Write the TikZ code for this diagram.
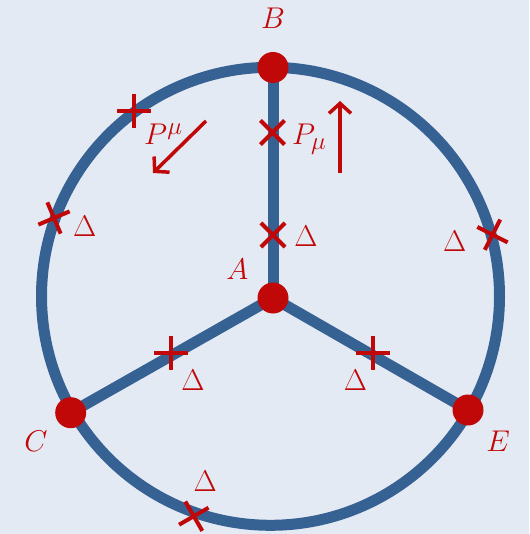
\documentclass[tikz,border=0pt]{standalone}
\usetikzlibrary{arrows.meta}
\definecolor{bg}{RGB}{228,234,243}
\definecolor{wire}{RGB}{54,97,147}
\definecolor{mk}{RGB}{192,8,8}
\newcommand\xmarkat[2]{\draw[xmark, shift={(#1)}, rotate=#2] (-17,0) -- (17,0) (0,-17) -- (0,17);}
\begin{document}
\begin{tikzpicture}[x=1pt,y=-1pt,
  wireline/.style={line width=11pt, draw=wire},
  vertex/.style={circle, fill=mk, minimum size=31pt, inner sep=0pt},
  lbl/.style={text=mk, font=\fontsize{24.88}{30}\selectfont, scale=1.2058, inner sep=0pt},
  xmark/.style={line width=4pt, draw=mk},
  momarrow/.style={line width=3.5pt, draw=mk, -{Straight Barb[length=10pt,width=22pt]}}]
\fill[bg] (0,0) rectangle (529,534);
\useasboundingbox (0,0) rectangle (529,534);
\coordinate (O) at (270.5,296.3);
\coordinate (Bp) at (273,67.5);
\coordinate (Ap) at (273,298);
\coordinate (Cp) at (70.7,412.7);
\coordinate (Ep) at (468,410);
\draw[wireline] (O) circle[radius=229];
\draw[wireline] (Ap) -- (Bp);
\draw[wireline] (Ap) -- (Cp);
\draw[wireline] (Ap) -- (Ep);
\node[vertex] (A) at (Ap) {};
\node[vertex] (B) at (Bp) {};
\node[vertex] (C) at (Cp) {};
\node[vertex] (E) at (Ep) {};
% crosses
\xmarkat{134,111}{0}
\xmarkat{272.5,132.5}{45}
\xmarkat{273,235}{45}
\xmarkat{54,218}{23}
\xmarkat{492.5,234.7}{-27}
\xmarkat{193.8,516.2}{30}
\xmarkat{171,353}{0}
\xmarkat{373.3,353}{0}
% labels
\node[lbl] (lB) at (273,18) {$B$};
\node[lbl] (lA) at (237.5,269) {$A$};
\node[lbl] (lC) at (36,441) {$C$};
\node[lbl] (lE) at (498,441) {$E$};
\node[lbl] (d1) at (84.7,226) {$\Delta$};
\node[lbl] (d2) at (306,236) {$\Delta$};
\node[lbl] (d3) at (454.7,241.7) {$\Delta$};
\node[lbl] (d4) at (193,380) {$\Delta$};
\node[lbl] (d5) at (355.5,380) {$\Delta$};
\node[lbl] (d6) at (205.3,481) {$\Delta$};
\node[lbl, anchor=base west] (pup) at (144,145) {$P^\mu$};
\node[lbl, anchor=base west] (pdn) at (292,145) {$P_\mu$};
% momentum arrows
\coordinate (a1s) at (206,121);
\coordinate (a1e) at (153,173);
\coordinate (a2s) at (340,173);
\coordinate (a2e) at (340,101);
\draw[momarrow] (a1s) -- (a1e);
\draw[momarrow] (a2s) -- (a2e);
\end{tikzpicture}
\end{document}
